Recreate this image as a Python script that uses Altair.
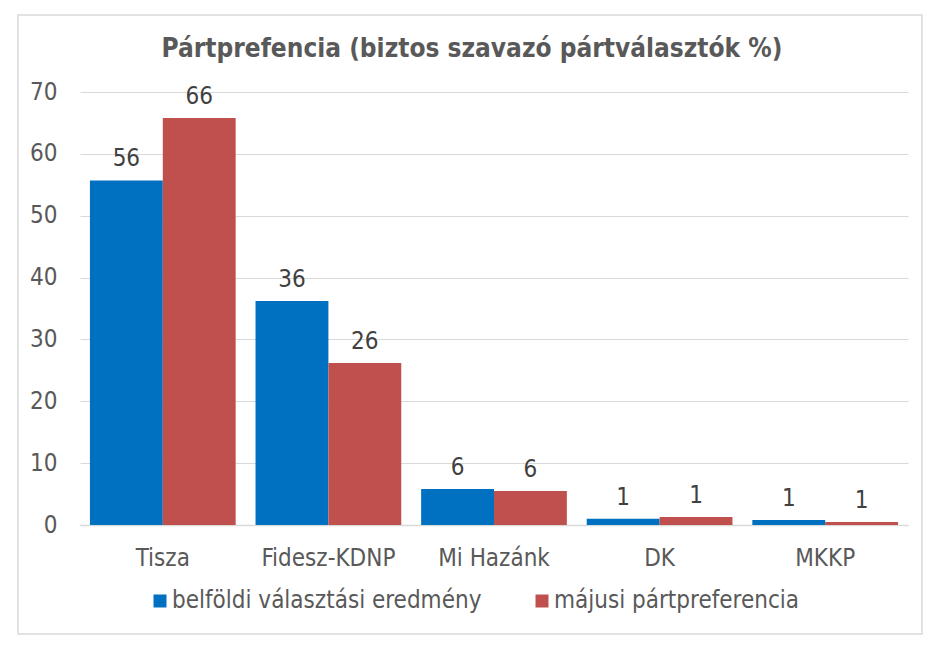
import altair as alt
import pandas as pd

parties = ["Tisza", "Fidesz-KDNP", "Mi Hazánk", "DK", "MKKP"]
series_names = ["belföldi választási eredmény", "májusi pártpreferencia"]
belfoldi = [55.7, 36.2, 5.8, 1.0, 0.8]
majusi = [65.8, 26.2, 5.5, 1.3, 0.5]
belfoldi_labels = ["56", "36", "6", "1", "1"]
majusi_labels = ["66", "26", "6", "1", "1"]
colors = ["#0070C0", "#C0504D"]
title_text = "Pártprefencia (biztos szavazó pártválasztók %)"

rows = []
for p, v, l in zip(parties, belfoldi, belfoldi_labels):
    rows.append({"party": p, "series": series_names[0], "value": v, "label": l})
for p, v, l in zip(parties, majusi, majusi_labels):
    rows.append({"party": p, "series": series_names[1], "value": v, "label": l})
df = pd.DataFrame(rows)

FONT = "DejaVu Sans Condensed, DejaVu Sans, sans-serif"
TXT = "#595959"

x_enc = alt.X("party:N", sort=parties, title=None,
              scale=alt.Scale(paddingInner=0.12, paddingOuter=0.06),
              axis=alt.Axis(labelAngle=0, labelFontSize=24, labelColor=TXT,
                            labelPadding=21, ticks=False, domainColor="#D9D9D9",
                            domainWidth=1.5, grid=False))
y_enc = alt.Y("value:Q", title=None,
              scale=alt.Scale(domain=[0, 70], nice=False),
              axis=alt.Axis(values=[0, 10, 20, 30, 40, 50, 60, 70], labelFontSize=24,
                            labelColor=TXT, labelPadding=23, ticks=False, domain=False,
                            gridColor="#D9D9D9", gridWidth=1.2))
xo_enc = alt.XOffset("series:N", sort=series_names, scale=alt.Scale(paddingInner=0, paddingOuter=0))

frame = alt.Chart(alt.Data(values=[{"a": 1}])).mark_rect(
    filled=False, stroke="#D9D9D9", strokeWidth=1.5
).encode(x=alt.value(-62), x2=alt.value(842), y=alt.value(-77), y2=alt.value(542))

bars = alt.Chart(df).mark_bar().encode(
    x=x_enc, y=y_enc, xOffset=xo_enc,
    color=alt.Color("series:N", sort=series_names,
                    scale=alt.Scale(domain=series_names, range=colors),
                    legend=alt.Legend(title=None, orient="none", direction="horizontal",
                                      legendX=68, legendY=497, symbolType="square",
                                      symbolSize=169, symbolStrokeWidth=0,
                                      labelFontSize=24, labelColor=TXT, labelOffset=0,
                                      labelLimit=500, columnPadding=48, padding=0)),
)

labels = alt.Chart(df).mark_text(
    baseline="alphabetic", dy=-14, fontSize=24, color="#404040"
).encode(x=x_enc, y=y_enc, xOffset=xo_enc, text="label:N")

chart = alt.layer(frame, bars, labels).properties(
    width=828, height=433,
    autosize=alt.AutoSizeParams(type="none"),
    padding={"left": 72, "top": 84, "right": 17, "bottom": 111},
    title=alt.TitleParams(title_text, fontSize=26, fontWeight="bold", color=TXT,
                          anchor="middle", baseline="alphabetic", offset=-69, dx=-22),
).configure(font=FONT).configure_view(stroke=None)

chart.save("out.html", embed_options={"renderer": "svg", "actions": False})
